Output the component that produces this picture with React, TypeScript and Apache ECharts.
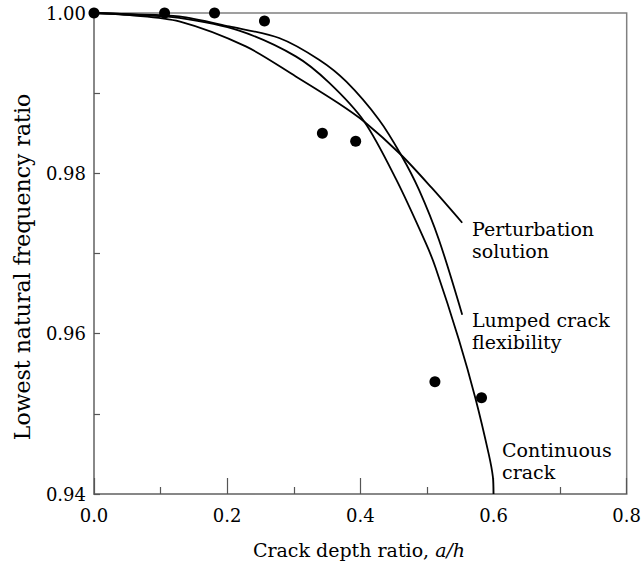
import React, { useEffect, useRef } from "react";
import * as echarts from "echarts";

// Measured data points (crack depth ratio, frequency ratio)
const measuredX = [0.0, 0.106, 0.181, 0.256, 0.343, 0.393, 0.512, 0.582];
const measuredY = [1.0, 1.0, 1.0, 0.999, 0.985, 0.984, 0.954, 0.952];

// Perturbation solution curve
const pertX = [0, 0.054, 0.128, 0.228, 0.303, 0.366, 0.406, 0.461, 0.507, 0.553];
const pertY = [1.0, 0.99973, 0.99895, 0.99583, 0.99209, 0.98881, 0.98644, 0.98232, 0.97821, 0.97384];

// Lumped crack flexibility curve
const lumpX = [0, 0.054, 0.128, 0.203, 0.278, 0.338, 0.379, 0.428, 0.461, 0.488, 0.518, 0.553];
const lumpY = [1.0, 0.99985, 0.99958, 0.99833, 0.99688, 0.99417, 0.99143, 0.98669, 0.98232, 0.97796, 0.97172, 0.96237];

// Continuous crack curve
const contX = [0, 0.054, 0.128, 0.218, 0.303, 0.353, 0.406, 0.454, 0.498, 0.513, 0.548, 0.573, 0.593, 0.599, 0.6];
const contY = [1.0, 0.99981, 0.99938, 0.99779, 0.99459, 0.99131, 0.98644, 0.97921, 0.97135, 0.96823, 0.95925, 0.95189, 0.94491, 0.94216, 0.94];

const xTicks = [0, 0.2, 0.4, 0.6, 0.8];
const yTicks = [0.94, 0.96, 0.98, 1.0];

const FONT = "DejaVu Serif";

function pairs(xs: number[], ys: number[]) {
  return xs.map((x, i) => [x, ys[i]]);
}

export default function App() {
  const ref = useRef<HTMLDivElement>(null);
  useEffect(() => {
    if (!ref.current) return;
    const chart = echarts.init(ref.current, undefined, { renderer: "svg" });
    const lineStyle = { color: "#000", width: 1.8 };
    const mkLine = (name: string, xs: number[], ys: number[]) => ({
      name,
      type: "line",
      data: pairs(xs, ys),
      showSymbol: false,
      smooth: 0.3,
      lineStyle,
      z: 2,
    });
    chart.setOption({
      animation: false,
      backgroundColor: "#fff",
      grid: {
        left: 94,
        right: 16,
        top: 13,
        bottom: 71,
        show: true,
        borderColor: "#808080",
        borderWidth: 1.5,
      },
      xAxis: {
        type: "value",
        min: xTicks[0],
        max: xTicks[xTicks.length - 1],
        interval: 0.2,
        axisLine: { show: true, lineStyle: { color: "#808080", width: 1.5 } },
        axisTick: { show: true, inside: true, length: 16, lineStyle: { color: "#555", width: 1.2 } },
        minorTick: { show: true, splitNumber: 2, length: 7, lineStyle: { color: "#555", width: 1.2 } },
        splitLine: { show: false },
        axisLabel: {
          color: "#000",
          fontFamily: FONT,
          fontSize: 18,
          margin: 12,
          formatter: (v: number) => v.toFixed(1),
        },
      },
      yAxis: {
        type: "value",
        min: yTicks[0],
        max: yTicks[yTicks.length - 1],
        interval: 0.02,
        axisLine: { show: true, lineStyle: { color: "#808080", width: 1.5 } },
        axisTick: { show: true, inside: true, length: 6, lineStyle: { color: "#555", width: 1.2 } },
        minorTick: { show: true, splitNumber: 2, length: 6, lineStyle: { color: "#555", width: 1.2 } },
        splitLine: { show: false },
        axisLabel: {
          color: "#000",
          fontFamily: FONT,
          fontSize: 18,
          margin: 8,
          formatter: (v: number) => v.toFixed(2),
        },
      },
      series: [
        mkLine("Perturbation solution", pertX, pertY),
        mkLine("Lumped crack flexibility", lumpX, lumpY),
        mkLine("Continuous crack", contX, contY),
        {
          name: "Measured",
          type: "scatter",
          data: pairs(measuredX, measuredY),
          symbol: "circle",
          symbolSize: 11,
          itemStyle: { color: "#000", opacity: 1 },
          clip: false,
          z: 5,
        },
      ],
      graphic: [
        {
          type: "text",
          x: 22,
          y: 267,
          rotation: Math.PI / 2,
          style: {
            text: "Lowest natural frequency ratio",
            fill: "#000",
            font: `22px '${FONT}'`,
            align: "center",
            verticalAlign: "middle",
          },
        },
        {
          type: "text",
          x: 359,
          y: 550,
          style: {
            text: "Crack depth ratio, {i|a/h}",
            fill: "#000",
            font: `19px '${FONT}'`,
            align: "center",
            verticalAlign: "middle",
            rich: { i: { fontStyle: "italic", fontFamily: FONT, fontSize: 19 } },
          },
        },
        {
          type: "text",
          x: 472,
          y: 240,
          style: {
            text: "Perturbation\nsolution",
            fill: "#000",
            font: `19px '${FONT}'`,
            lineHeight: 22,
            align: "left",
            verticalAlign: "middle",
          },
        },
        {
          type: "text",
          x: 472,
          y: 331,
          style: {
            text: "Lumped crack\nflexibility",
            fill: "#000",
            font: `19px '${FONT}'`,
            lineHeight: 22,
            align: "left",
            verticalAlign: "middle",
          },
        },
        {
          type: "text",
          x: 502,
          y: 461,
          style: {
            text: "Continuous\ncrack",
            fill: "#000",
            font: `19px '${FONT}'`,
            lineHeight: 22,
            align: "left",
            verticalAlign: "middle",
          },
        },
      ],
    });
    return () => chart.dispose();
  }, []);
  return (
    <div
      ref={ref}
      style={{ position: "fixed", left: 0, top: 0, width: 644, height: 565 }}
    />
  );
}
